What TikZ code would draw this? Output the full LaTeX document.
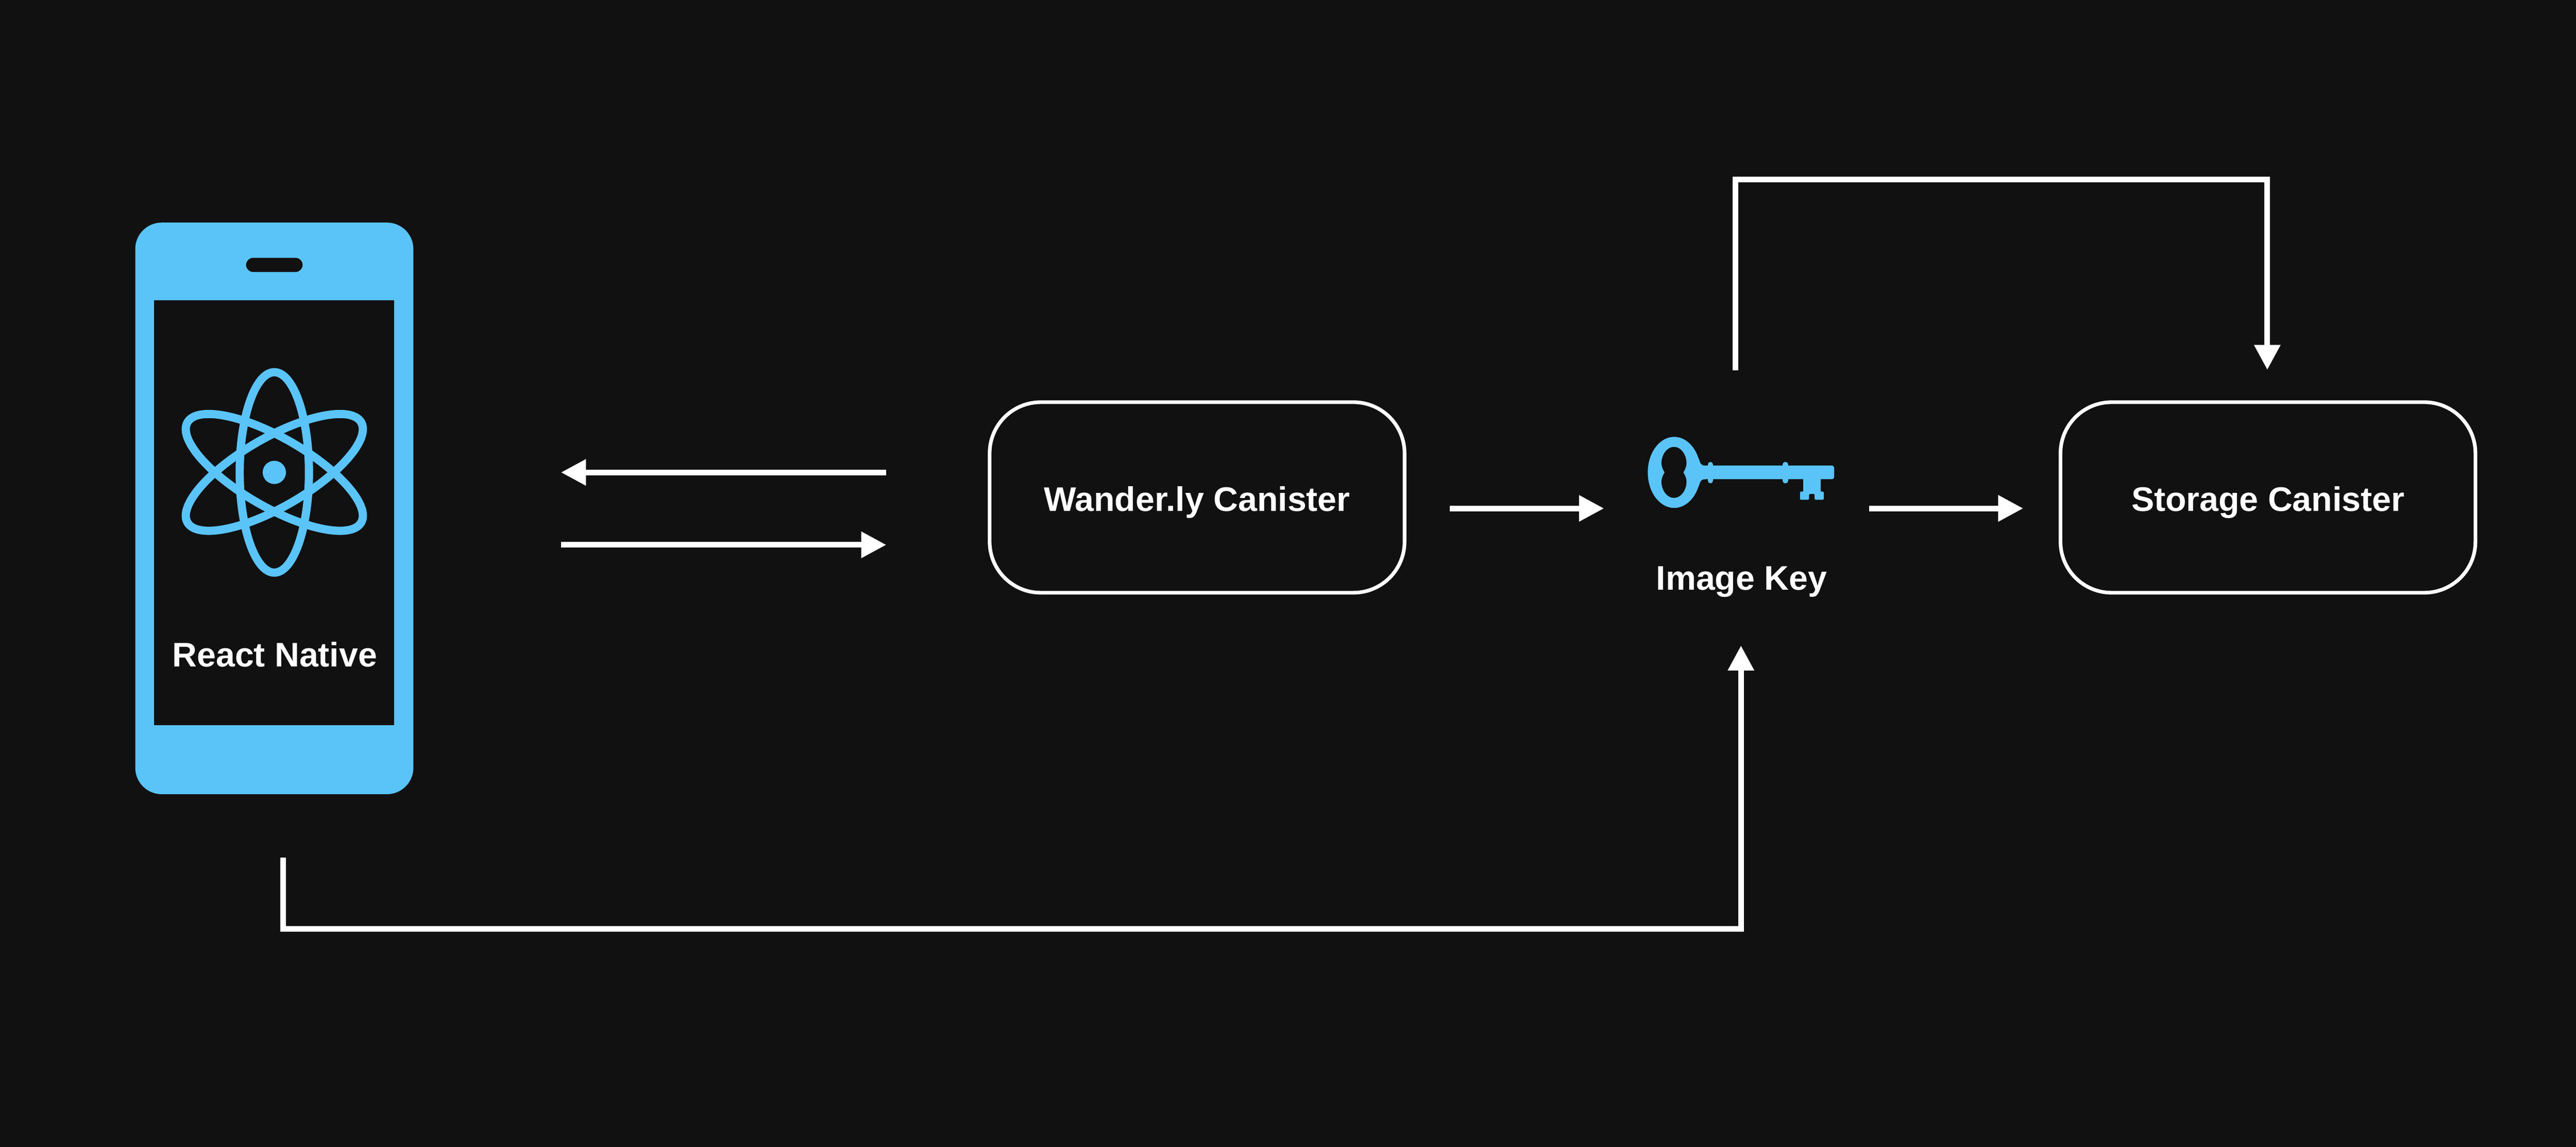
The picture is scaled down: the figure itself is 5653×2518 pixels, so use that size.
\documentclass[tikz,border=0pt]{standalone}
\usepackage{fontspec}
\setmainfont{Liberation Sans}
\usetikzlibrary{arrows.meta}

\definecolor{bgdark}{HTML}{111111}
\definecolor{rnblue}{HTML}{5AC4F9}

\tikzset{
  conn/.style={draw=white,line width=0.125cm,-{Triangle[length=0.55cm,width=0.55cm]}},
  canister/.style={draw=white,line width=0.08cm,rounded corners=1.12cm,minimum width=9.1cm,minimum height=4.18cm,inner sep=0pt,outer sep=0pt,text height=17pt,text depth=0pt},
  labeltext/.style={text=white,font=\bfseries\fontsize{21.3pt}{24pt}\selectfont,inner sep=0pt,outer sep=0pt},
  phonepart/.style={inner sep=0pt,outer sep=0pt}
}

\begin{document}
\begin{tikzpicture}[x=0.01cm,y=-0.01cm]

\useasboundingbox (0,0) rectangle (5653,2517.8);
\fill [bgdark] (-20,-20) rectangle (5673,2538);

% phone
\node (phone) at (602,1116) [phonepart,fill=rnblue,rounded corners=0.58cm,minimum width=6.1cm,minimum height=12.54cm]{};
\node (screen) at (601.5,1125.5) [phonepart,fill=bgdark,minimum width=5.27cm,minimum height=9.33cm]{};
\node (speaker) at (602,581.5) [phonepart,fill=bgdark,rounded corners=0.155cm,minimum width=1.24cm,minimum height=0.31cm]{};

% atom
\draw [rnblue,line width=0.18cm] (602,1037) ellipse [x radius=76,y radius=220];
\draw [rnblue,line width=0.18cm] (602,1037) ellipse [x radius=76,y radius=220,rotate=60];
\draw [rnblue,line width=0.18cm] (602,1037) ellipse [x radius=76,y radius=220,rotate=-60];
\fill [rnblue] (602,1037) circle [radius=25.5];

\node (rnlabel) at (603,1463) [labeltext,anchor=base]{React Native};

% canisters
\node (wander) at (2627,1092) [canister,labeltext]{Wander.ly Canister};
\node (storage) at (4977,1092) [canister,labeltext]{Storage Canister};

% key
\fill [rnblue] (3674,1037) ellipse [x radius=58,y radius=78];
\fill [rnblue] (3728,1006) .. controls (3731,1018) and (3733,1022) .. (3742,1022) -- (3742,1052) .. controls (3733,1052) and (3731,1056) .. (3728,1068) -- cycle;
\fill [bgdark] (3673.5,981) .. controls (3690,981) and (3701,1000) .. (3701,1016) .. controls (3701,1025) and (3697,1032) .. (3694,1037) .. controls (3697,1042) and (3701,1049) .. (3701,1058) .. controls (3701,1074) and (3690,1093) .. (3673.5,1093) .. controls (3657,1093) and (3646,1074) .. (3646,1058) .. controls (3646,1049) and (3650,1042) .. (3653,1037) .. controls (3650,1032) and (3646,1025) .. (3646,1016) .. controls (3646,1000) and (3657,981) .. (3673.5,981) -- cycle;
\fill [rnblue,rounded corners=0.05cm] (3735,1022) rectangle (4025,1052);
\fill [rnblue,rounded corners=0.055cm] (3748,1014) rectangle (3759,1061);
\fill [rnblue,rounded corners=0.055cm] (3912,1014) rectangle (3924,1061);
\fill [rnblue] (3957,1045) rectangle (3996,1082);
\fill [rnblue,rounded corners=0.02cm] (3950,1079) -- (4002,1079) -- (4002,1097) -- (3982,1097) -- (3982,1084) -- (3970,1084) -- (3970,1097) -- (3950,1097) -- cycle;

\node (keylabel) at (3822,1295) [labeltext,anchor=base]{Image Key};

% connector ends
\coordinate (backstart) at (1945,1037);
\coordinate (backend) at (1231,1037);
\coordinate (sendstart) at (1231,1196);
\coordinate (sendend) at (1945,1196);
\coordinate (keyinstart) at (3182,1116);
\coordinate (keyinend) at (3520,1116);
\coordinate (keyoutstart) at (4102,1116);
\coordinate (keyoutend) at (4440,1116);
\coordinate (overstart) at (3808,813);
\coordinate (overleft) at (3808,393.5);
\coordinate (overright) at (4975.5,393.5);
\coordinate (overend) at (4975.5,812);
\coordinate (understart) at (621.5,1882);
\coordinate (underleft) at (621.5,2039.5);
\coordinate (underright) at (3820.5,2039.5);
\coordinate (underend) at (3820.5,1417);

\draw [conn] (backstart) -- (backend);
\draw [conn] (sendstart) -- (sendend);
\draw [conn] (keyinstart) -- (keyinend);
\draw [conn] (keyoutstart) -- (keyoutend);
\draw [conn] (overstart) -- (overleft) -- (overright) -- (overend);
\draw [conn] (understart) -- (underleft) -- (underright) -- (underend);

\end{tikzpicture}
\end{document}
